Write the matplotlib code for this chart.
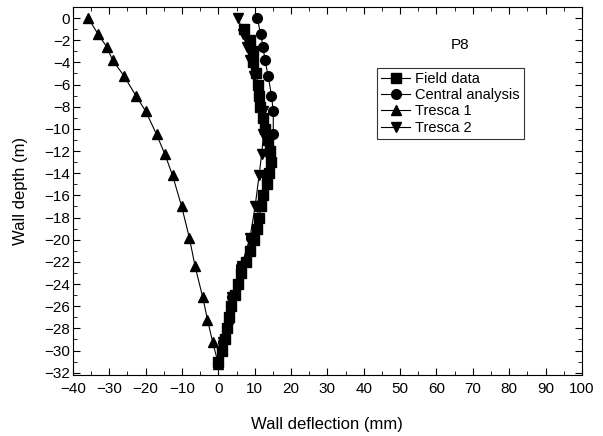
import matplotlib
matplotlib.use("Agg")
import matplotlib.pyplot as plt
from matplotlib.ticker import MultipleLocator

plt.rcParams['font.family'] = ['Liberation Sans', 'DejaVu Sans']

# Field data (squares)
field_depth = [-1, -2, -3, -4, -5, -6, -7, -8, -9, -10, -11, -12, -13, -14, -15, -16,
               -17, -18, -19, -20, -21, -22, -23, -24, -25, -26, -27, -28, -29, -30, -31]
field_defl = [7.0, 8.7, 9.4, 9.6, 10.3, 11.0, 11.2, 11.4, 12.2, 12.8, 13.6, 14.3, 14.6, 14.0,
              13.4, 12.3, 11.7, 11.2, 10.5, 9.7, 8.6, 7.7, 6.3, 5.5, 4.6, 3.6, 2.8, 2.4, 1.8, 0.9, 0.0]

# model depths (shared by analyses)
model_depth = [0, -1.4, -2.6, -3.8, -5.2, -7.0, -8.4, -10.5, -12.3, -14.2, -17.0,
               -19.8, -22.4, -25.2, -27.2, -29.2, -31.2]
central_defl = [10.7, 11.6, 12.3, 12.8, 13.7, 14.6, 15.1, 15.1, 14.3, 13.0, 11.3,
                8.9, 6.3, 3.7, 2.8, 1.3, 0.0]
tresca1_defl = [-35.8, -33.2, -30.7, -29.1, -26.0, -22.7, -20.0, -17.0, -14.7, -12.6, -10.1,
                -8.0, -6.4, -4.3, -3.0, -1.6, 0.0]
tresca2_defl = [5.5, 6.7, 7.8, 8.7, 9.8, 11.2, 12.2, 12.4, 11.9, 11.2, 10.1,
                8.7, 6.4, 3.8, 2.9, 1.2, 0.0]

fig = plt.figure(figsize=(6.03, 4.36), dpi=100)
ax = fig.add_axes([0.121, 0.140, 0.844, 0.844])

kw = dict(color='black', linewidth=0.8, markersize=7)
ax.plot(field_defl, field_depth, marker='s', label='Field data', **kw)
ax.plot(central_defl, model_depth, marker='o', label='Central analysis', **kw)
ax.plot(tresca1_defl, model_depth, marker='^', label='Tresca 1', **kw)
ax.plot(tresca2_defl, model_depth, marker='v', label='Tresca 2', **kw)

ax.set_xlim(-40, 100)
ax.set_ylim(-32.2, 1.0)
ax.xaxis.set_major_locator(MultipleLocator(10))
ax.xaxis.set_minor_locator(MultipleLocator(5))
ax.yaxis.set_major_locator(MultipleLocator(2))
ax.yaxis.set_minor_locator(MultipleLocator(1))
ax.tick_params(which='both', direction='in', top=True, right=True, labelsize=11)
ax.tick_params(which='major', length=5)
ax.tick_params(which='minor', length=3)
ax.tick_params(axis='x', pad=5)
ax.tick_params(axis='y', pad=2)

ax.set_xlabel('Wall deflection (mm)', fontsize=12, labelpad=15)
ax.set_ylabel('Wall depth (m)', fontsize=12, labelpad=12)

ax.text(0.76, 0.897, 'P8', transform=ax.transAxes, fontsize=11, ha='center', va='center')
leg = ax.legend(loc='upper left', bbox_to_anchor=(0.597, 0.835), fontsize=10.5,
                frameon=True, fancybox=False, edgecolor='black', handlelength=2,
                borderpad=0.3, labelspacing=0.15, handletextpad=0.3, borderaxespad=0)
leg.get_frame().set_linewidth(0.8)

fig.savefig('out.png', dpi=100)
